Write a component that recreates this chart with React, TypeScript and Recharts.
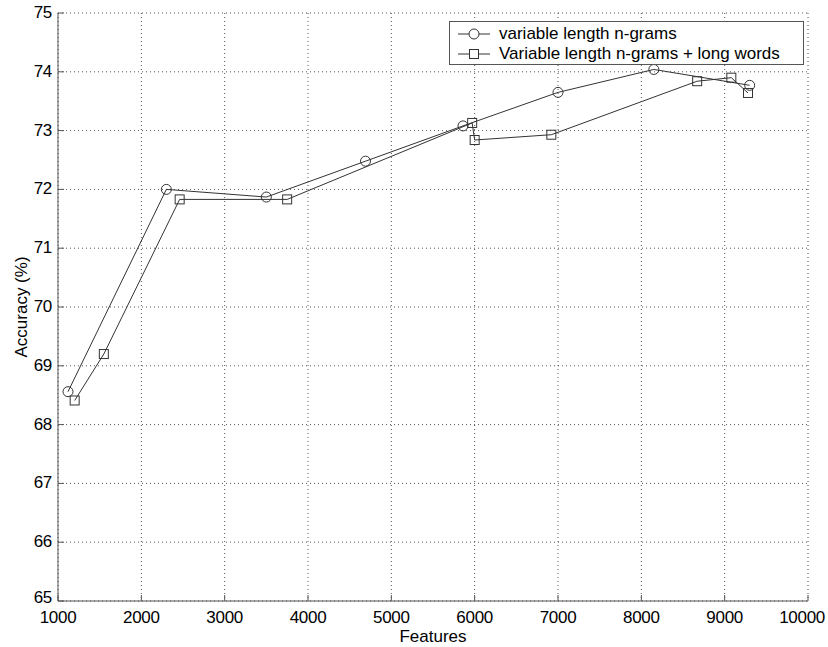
import React from "react";
import {
  CartesianGrid,
  Legend,
  Line,
  LineChart,
  XAxis,
  YAxis,
} from "recharts";

const ngramFeatures = [1120, 2300, 3500, 4690, 5860, 7000, 8150, 9300];
const ngramAccuracy = [68.56, 72.0, 71.87, 72.48, 73.08, 73.65, 74.04, 73.77];

const longFeatures = [1200, 1550, 2460, 3750, 5970, 6000, 6920, 8670, 9080, 9280];
const longAccuracy = [68.41, 69.2, 71.83, 71.83, 73.13, 72.84, 72.93, 73.84, 73.9, 73.64];

const xTicks = [1000, 2000, 3000, 4000, 5000, 6000, 7000, 8000, 9000, 10000];
const yTicks = [65, 66, 67, 68, 69, 70, 71, 72, 73, 74, 75];

const seriesNames = ["variable length n-grams", "Variable length n-grams + long words"];

const ngramData = ngramFeatures.map((x, i) => ({ x, y: ngramAccuracy[i] }));
const longData = longFeatures.map((x, i) => ({ x, y: longAccuracy[i] }));

const FONT = "'Liberation Sans', Arial, Helvetica, sans-serif";
const INK = "#333";
const AXIS = "#555";

const XTick = (props: any) => {
  const { x, y, payload, index } = props;
  // the last label is pulled in so it stays on the page, as in the original
  const last = index === xTicks.length - 1;
  return (
    <g>
      <line x1={x} y1={y} x2={x} y2={y - 6} stroke={AXIS} />
      <text
        x={last ? x + 17 : x}
        y={y + 22}
        textAnchor={last ? "end" : "middle"}
        fontSize={17}
        letterSpacing={-0.3}
        fill="#000"
        fontFamily={FONT}
      >
        {payload.value}
      </text>
    </g>
  );
};

const YTick = (props: any) => {
  const { x, y, payload, index } = props;
  // bottom label sits a little higher so it clears the "1000" below it
  const lift = index === 0 ? 3 : 0;
  return (
    <g>
      <line x1={x} y1={y} x2={x + 6} y2={y} stroke={AXIS} />
      <text x={x - 6} y={y + 5 - lift} textAnchor="end" fontSize={17} letterSpacing={-0.3} fill="#000" fontFamily={FONT}>
        {payload.value}
      </text>
    </g>
  );
};

const circleDot = (p: any) => (
  <circle key={`c${p.index}`} cx={p.cx} cy={p.cy} r={5} fill="none" stroke={INK} strokeWidth={1} />
);

const squareDot = (p: any) => (
  <rect key={`s${p.index}`} x={p.cx - 4.5} y={p.cy - 4.5} width={9} height={9} fill="none" stroke={INK} strokeWidth={1} />
);

const LegendBox = () => (
  <div
    style={{
      width: 355,
      height: 44,
      boxSizing: "border-box",
      border: `1px solid ${AXIS}`,
      background: "#fff",
      fontFamily: FONT,
      fontSize: 17,
      position: "relative",
    }}
  >
    {seriesNames.map((name, i) => (
      <div key={name} style={{ position: "absolute", left: 8, top: 2 + i * 20, height: 20, display: "flex", alignItems: "center" }}>
        <svg width={32} height={20} style={{ marginRight: 9 }}>
          <line x1={0} y1={10} x2={32} y2={10} stroke={INK} />
          {i === 0 ? (
            <circle cx={16} cy={10} r={5} fill="#fff" stroke={INK} />
          ) : (
            <rect x={11.5} y={5.5} width={9} height={9} fill="#fff" stroke={INK} />
          )}
        </svg>
        <span style={{ whiteSpace: "nowrap", lineHeight: "20px" }}>{name}</span>
      </div>
    ))}
  </div>
);

export default function App() {
  return (
    <div style={{ width: 828, height: 647, background: "#fff", fontFamily: FONT }}>
      <style>{`body{margin:0;background:#fff}`}</style>
      <LineChart width={828} height={647} margin={{ top: 13, right: 20, left: 0, bottom: 0 }}>
        <CartesianGrid stroke="#555" strokeDasharray="1 3" />
        <XAxis
          type="number"
          dataKey="x"
          domain={[1000, 10000]}
          ticks={xTicks}
          allowDataOverflow
          height={46}
          tickSize={0}
          tickMargin={0}
          tick={<XTick />}
          axisLine={{ stroke: AXIS }}
          label={{ value: "Features", position: "insideBottom", offset: 5, fill: "#000", fontSize: 17, fontFamily: FONT }}
        />
        <YAxis
          type="number"
          dataKey="y"
          domain={[65, 75]}
          ticks={yTicks}
          allowDataOverflow
          width={58}
          tickSize={0}
          tickMargin={0}
          tick={<YTick />}
          axisLine={{ stroke: AXIS }}
          label={{
            value: "Accuracy (%)",
            angle: -90,
            position: "insideLeft",
            offset: 21,
            fill: "#000",
            fontSize: 17,
            fontFamily: FONT,
            style: { textAnchor: "middle" },
          }}
        />
        <Legend
          layout="vertical"
          align="center"
          verticalAlign="middle"
          content={<LegendBox />}
          wrapperStyle={{ position: "absolute", left: 449, top: 21, width: 355, height: 44 }}
        />
        <Line
          data={ngramData}
          dataKey="y"
          name={seriesNames[0]}
          stroke={INK}
          strokeWidth={1}
          dot={circleDot}
          activeDot={false}
          isAnimationActive={false}
        />
        <Line
          data={longData}
          dataKey="y"
          name={seriesNames[1]}
          stroke={INK}
          strokeWidth={1}
          dot={squareDot}
          activeDot={false}
          isAnimationActive={false}
        />
      </LineChart>
    </div>
  );
}
